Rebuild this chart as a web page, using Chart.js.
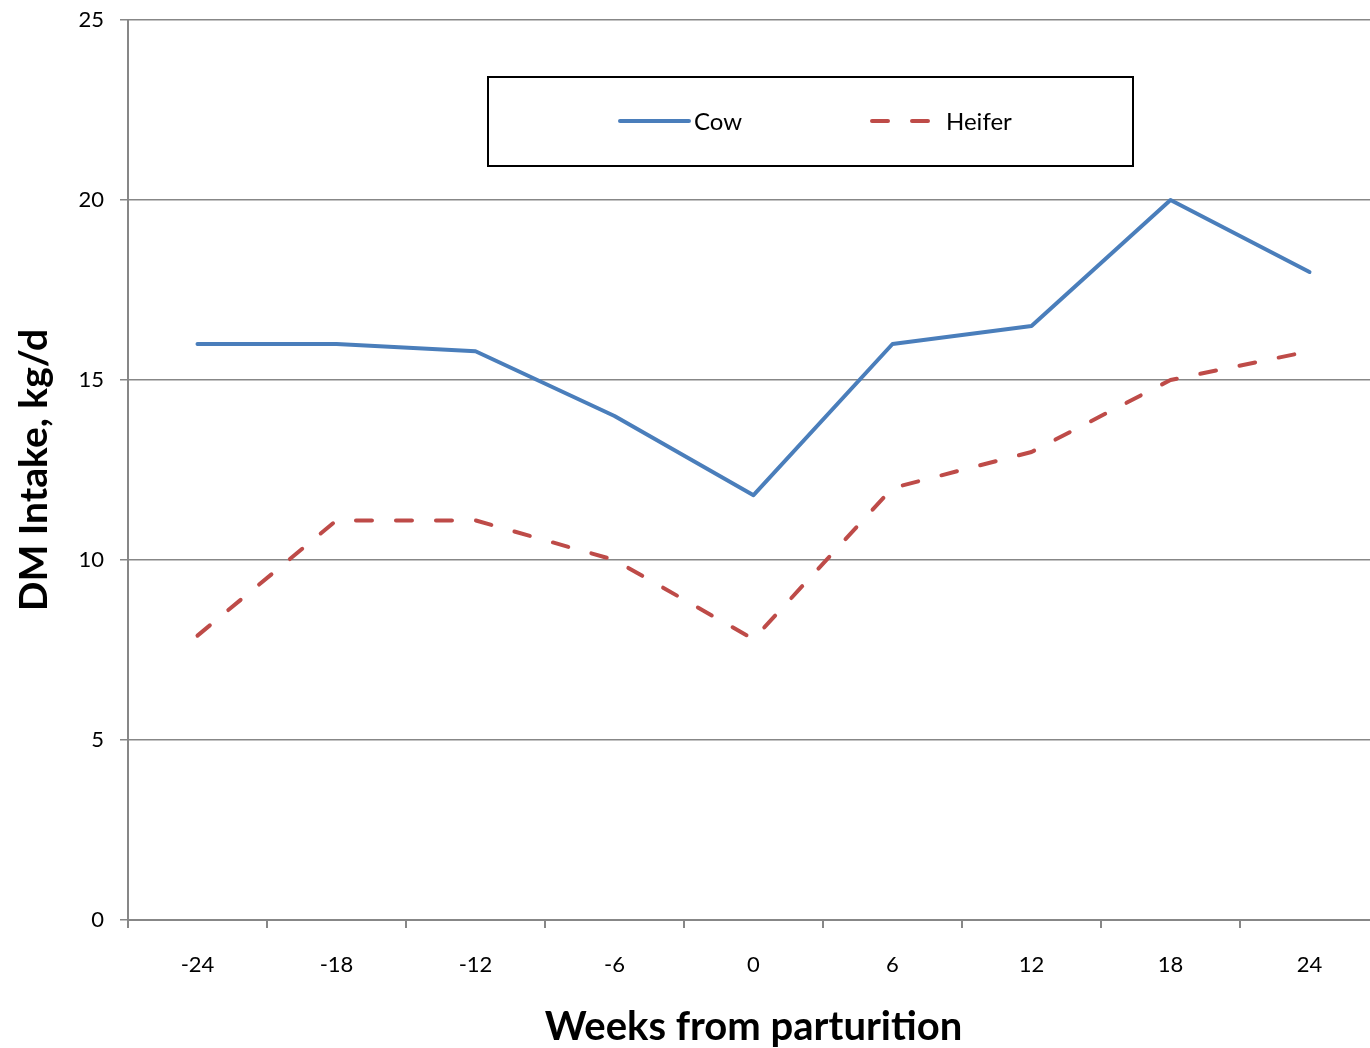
<!DOCTYPE html>
<html>
<head>
<meta charset="utf-8">
<title>DM Intake</title>
<script src="https://cdn.jsdelivr.net/npm/chart.js@4/dist/chart.umd.min.js"></script>
<style>
  html, body { margin: 0; padding: 0; background: #ffffff; overflow: hidden; }
  #wrap { width: 1370px; height: 1048px; overflow: hidden; }
  #chart { display: block; }
</style>
</head>
<body>
<div id="wrap"><canvas id="chart" width="1379" height="1048"></canvas></div>
<script>
// Weeks relative to calving
const weeks = ['-24', '-18', '-12', '-6', '0', '6', '12', '18', '24'];
// Dry matter intake, kg/d
const cowIntake = [16, 16, 15.8, 14, 11.8, 16, 16.5, 20, 18];
const heiferIntake = [7.9, 11.1, 11.1, 10, 7.8, 12, 13, 15, 15.8];
const yTicks = [0, 5, 10, 15, 20, 25];

const FONT = 'Lato, "Open Sans", sans-serif';
const AXIS_GRAY = '#878787';

// Boxed legend drawn inside the plot area
const boxedLegend = {
  id: 'boxedLegend',
  afterDraw(chart) {
    const ctx = chart.ctx;
    const ds = chart.data.datasets;
    const box = { x: 488, y: 77, w: 645, h: 89 };
    ctx.save();
    ctx.fillStyle = '#ffffff';
    ctx.fillRect(box.x, box.y, box.w, box.h);
    ctx.strokeStyle = '#000000';
    ctx.lineWidth = 2;
    ctx.strokeRect(box.x, box.y, box.w, box.h);
    const cy = box.y + 44;
    const items = [
      { x0: 620, x1: 689, tx: 694 },
      { x0: 872, x1: 935, tx: 946 }
    ];
    ds.forEach((d, i) => {
      const it = items[i];
      ctx.beginPath();
      ctx.strokeStyle = d.borderColor;
      ctx.lineWidth = d.borderWidth;
      ctx.lineCap = 'round';
      ctx.setLineDash(d.borderDash || []);
      ctx.moveTo(it.x0, cy);
      ctx.lineTo(it.x1, cy);
      ctx.stroke();
      ctx.setLineDash([]);
      ctx.fillStyle = '#000000';
      ctx.font = '24px ' + FONT;
      ctx.textBaseline = 'middle';
      ctx.textAlign = 'left';
      ctx.fillText(d.label, it.tx, cy + 1);
    });
    ctx.restore();
  }
};

new Chart(document.getElementById('chart'), {
  type: 'line',
  data: {
    labels: weeks,
    datasets: [
      {
        label: 'Cow',
        data: cowIntake,
        borderColor: '#4A7EBB',
        borderWidth: 4,
        pointRadius: 0,
        tension: 0,
        borderCapStyle: 'round',
        borderJoinStyle: 'round'
      },
      {
        label: 'Heifer',
        data: heiferIntake,
        borderColor: '#BE4B48',
        borderWidth: 4,
        borderDash: [16, 24],
        pointRadius: 0,
        tension: 0,
        borderCapStyle: 'round',
        borderJoinStyle: 'round'
      }
    ]
  },
  options: {
    responsive: false,
    animation: false,
    layout: { padding: { top: 20, right: 0, left: 0, bottom: 0 } },
    plugins: {
      legend: { display: false },
      tooltip: { enabled: false }
    },
    scales: {
      x: {
        offset: true,
        grid: {
          offset: true,
          drawOnChartArea: false,
          drawTicks: true,
          tickLength: 8,
          color: AXIS_GRAY,
          lineWidth: 2
        },
        border: { color: AXIS_GRAY, width: 2 },
        ticks: {
          color: '#000000',
          font: { family: FONT, size: 22 },
          padding: 24,
          maxRotation: 0
        },
        title: {
          display: true,
          text: 'Weeks from parturition',
          color: '#000000',
          font: { family: FONT, size: 40, weight: 'bold' },
          padding: { top: -3, bottom: -3 }
        },
        afterFit(scale) {
          scale.height = 128;
          scale.paddingLeft = 0;
          scale.paddingRight = 0;
        }
      },
      y: {
        min: 0,
        max: 25,
        afterBuildTicks(scale) { scale.ticks = yTicks.map(v => ({ value: v })); },
        grid: {
          color: AXIS_GRAY,
          lineWidth: 1.5,
          tickLength: 8
        },
        border: { color: AXIS_GRAY, width: 2 },
        ticks: {
          color: '#000000',
          font: { family: FONT, size: 22 },
          padding: 16
        },
        title: {
          display: true,
          text: 'DM Intake, kg/d',
          color: '#000000',
          font: { family: FONT, size: 39, weight: 'bold' },
          padding: { top: 11, bottom: 0 }
        },
        afterFit(scale) {
          scale.width = 128;
          scale.paddingTop = 0;
          scale.paddingBottom = 0;
        }
      }
    }
  },
  plugins: [boxedLegend]
});
</script>
</body>
</html>
